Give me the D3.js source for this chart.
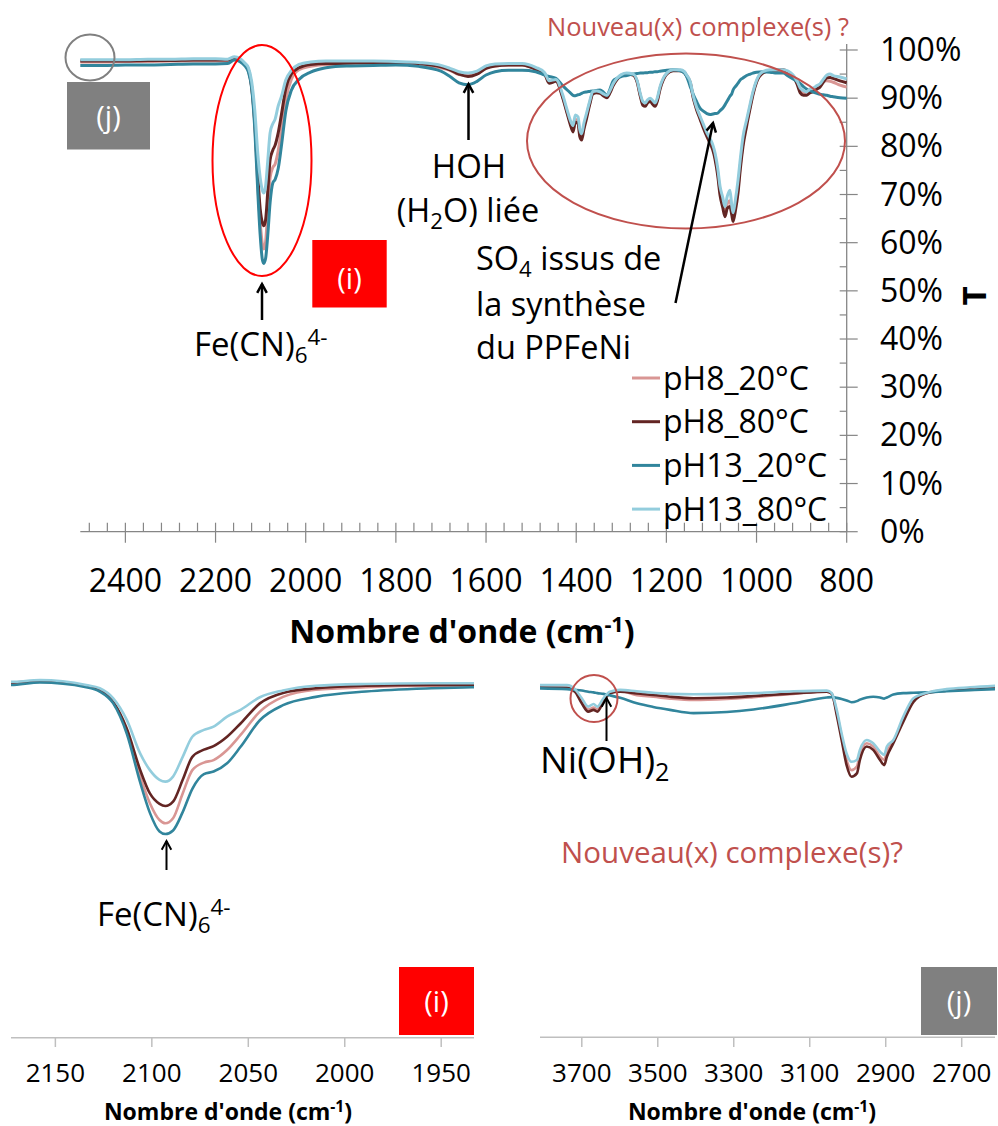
<!DOCTYPE html>
<html><head><meta charset="utf-8">
<script src="https://cdn.jsdelivr.net/npm/d3@7"></script>
<style>
body{margin:0;background:#fff;}
text{font-family:"Open Sans","Noto Sans",sans-serif;}
</style></head><body>
<svg id="c" width="998" height="1126"></svg>
<script>
// ---------- DATA ----------
const seriesNames = ["pH8_20°C","pH8_80°C","pH13_20°C","pH13_80°C"];
const seriesColors = ["#d99694","#632523","#31859c","#93cddd"];

// Main spectrum (also used by the zoom panel (i)), transmittance in %
const wnMain = [2500,2450,2400,2350,2300,2250,2200,2173,2158,2134,
2127,2120,2113,2106,2101,2096,2093,2089,2084,2079,
2073,2068,2061,2054,2044,2032,2015,1989,1955,1934,
1900,1850,1800,1750,1700,1680,1660,1640,1620,1600,
1580,1550,1520,1490,1470,1460,1445,1430,1420,1413,
1407,1402,1396,1392,1388,1383,1377,1370,1363,1355,
1347,1340,1332,1325,1318,1310,1300,1288,1274,1265,
1258,1252,1247,1242,1236,1230,1225,1220,1214,1207,
1199,1185,1169,1160,1155,1147,1140,1133,1125,1118,
1110,1103,1097,1092,1086,1081,1075,1070,1065,1059,
1055,1052,1047,1041,1036,1030,1022,1014,1008,1000,
986,970,955,941,930,919,910,903,896,889,
882,875,866,859,852,844,837,830,815,800];

const tPH8_20 = [97.5,97.5,97.6,97.6,97.7,97.7,97.7,97.7,98.1,96.8,
95.7,92.3,84.5,71.7,64.3,59.6,58.7,60.1,67.0,73.5,
75.6,76.3,79.1,83.3,89.8,93.9,95.9,96.6,97.0,97.0,
97.1,97.2,97.2,97.0,96.3,95.8,94.9,94.7,95.1,96.3,
96.7,96.9,96.9,96.1,95.1,93.3,93.7,90.3,87.0,84.9,
83.5,85.6,85.2,82.6,81.9,84.0,86.3,89.1,91.1,91.3,
91.1,90.7,90.3,91.3,92.8,93.9,94.8,95.1,94.9,93.5,
90.7,88.9,88.6,89.3,89.6,89.1,88.6,89.7,92.1,93.9,
95.1,95.8,95.8,95.4,94.7,93.3,90.1,87.9,85.9,84.1,
82.4,81.1,79.8,77.9,74.5,70.7,68.1,66.4,68.1,68.7,
66.6,65.2,67.6,71.4,76.1,80.8,84.8,88.4,91.0,93.5,
95.3,95.8,95.8,95.8,95.4,94.6,93.2,91.6,91.1,90.9,
91.4,91.7,92.2,92.6,93.5,93.6,93.5,93.3,92.7,92.3];

const tPH8_80 = [97.7,97.7,97.7,97.8,97.8,97.9,97.9,97.9,98.3,97.0,
95.9,92.5,85.1,73.5,67.0,64.1,63.5,64.7,70.8,77.2,
79.2,80.2,82.8,86.5,92.1,95.0,96.3,97.0,97.2,97.2,
97.3,97.4,97.4,97.2,96.5,95.9,95.0,94.5,95.0,96.2,
96.7,96.9,96.9,96.0,95.0,93.1,93.5,90.1,86.8,84.5,
83.0,85.0,84.8,82.0,81.3,83.5,85.8,88.7,90.9,91.1,
91.0,90.5,90.1,91.1,92.6,93.8,94.7,95.0,94.8,93.4,
90.5,88.5,88.3,89.0,89.3,88.7,88.3,89.4,91.9,93.8,
95.0,95.7,95.7,95.3,94.6,93.1,89.9,87.6,85.6,83.8,
82.0,80.6,79.2,77.3,73.9,69.9,67.3,65.4,67.1,67.5,
65.8,64.4,66.6,70.4,75.3,80.0,84.2,88.0,90.7,93.3,
95.2,95.7,95.8,95.9,95.4,94.5,92.9,91.1,90.6,90.6,
91.1,91.3,91.9,92.3,93.3,94.2,94.3,94.1,93.6,93.2];

const tPH13_20 = [96.8,96.8,96.9,96.9,97.0,97.1,97.1,97.2,97.9,96.6,
95.4,92.1,83.7,70.0,61.6,56.4,55.7,56.7,61.8,68.3,
72.4,73.1,75.4,80.0,87.4,91.6,93.9,95.4,96.3,96.6,
96.7,96.8,96.9,96.6,95.6,94.5,93.2,92.8,93.5,94.8,
95.5,95.8,95.8,95.5,94.8,94.5,94.1,92.6,91.7,91.1,
90.6,90.5,90.7,90.8,91.0,91.2,91.3,91.4,91.5,91.6,
91.7,91.3,90.6,91.9,93.6,94.1,94.5,94.7,95.0,95.1,
95.2,95.2,95.3,95.3,95.4,95.4,95.5,95.5,95.6,95.7,
95.8,95.9,95.7,95.2,94.5,92.4,90.7,89.3,87.9,87.3,
86.8,86.6,86.7,86.8,86.9,87.4,87.9,88.6,89.4,90.4,
90.9,91.7,92.4,93.1,93.8,94.2,94.7,95.0,95.2,95.4,
95.5,95.4,95.2,95.2,94.6,94.0,93.5,93.0,92.4,91.9,
91.6,91.3,91.0,90.8,90.7,90.6,90.4,90.3,90.1,90.0];

const tPH13_80 = [98.0,98.0,98.0,98.1,98.1,98.2,98.2,98.1,98.6,97.2,
96.3,93.5,87.5,78.1,73.5,70.8,70.3,71.7,77.2,82.8,
84.7,85.6,88.4,90.3,93.8,95.7,97.0,97.5,97.7,97.7,
97.7,97.7,97.6,97.4,96.8,96.2,95.5,95.2,95.6,96.7,
97.1,97.2,97.2,96.4,95.3,93.6,93.9,90.7,87.5,85.4,
84.3,86.5,86.1,83.5,82.6,84.8,86.9,89.4,91.4,91.5,
91.3,90.9,90.6,91.6,93.0,94.1,94.9,95.2,95.0,93.7,
91.0,89.3,89.0,89.6,90.0,89.5,89.0,90.1,92.4,94.1,
95.2,95.9,95.9,95.5,94.8,93.4,90.3,88.1,86.2,84.6,
82.8,81.6,80.3,78.6,75.4,71.7,69.4,67.5,69.6,70.9,
67.8,66.2,68.8,73.0,77.4,82.0,85.5,88.9,91.3,93.7,
95.5,95.9,95.9,95.9,95.6,94.8,93.5,92.1,91.6,91.3,
91.9,92.1,92.6,93.0,93.9,94.8,95.0,94.7,94.4,94.0];

// Zoom panel (j): high wavenumber region
const wnJ = [3810,3739,3718,3700,3683,3669,3659,3643,3626,3599,
3555,3512,3468,3406,3318,3248,3143,3055,3042,3029,
3016,3003,2990,2976,2968,2950,2933,2915,2904,2897,
2880,2854,2827,2792,2740,2678,2612];
const jPH8_20 = [95.6,95.4,94.5,91.6,89.3,89.8,89.3,91.9,94.0,94.4,
93.2,92.8,92.3,91.9,92.2,92.7,93.6,94.2,93.7,88.5,
81.8,75.4,72.6,73.6,76.8,80.0,79.1,76.3,75.4,77.7,
80.4,86.6,91.9,93.8,94.7,95.1,95.4];
const jPH8_80 = [95.4,95.2,94.2,91.0,88.7,89.2,88.7,91.4,93.8,94.2,
93.7,93.3,92.8,92.4,92.6,93.0,93.7,94.2,93.6,87.8,
80.9,74.0,70.8,71.7,75.4,79.1,78.2,75.4,74.0,76.3,
80.0,85.9,91.4,93.8,94.5,94.9,95.1];
const jPH13_20 = [95.1,94.9,94.7,94.5,94.2,94.0,93.8,93.6,93.2,92.5,
91.0,90.0,89.2,88.3,88.6,89.3,91.0,92.6,92.7,92.5,
92.2,91.8,91.3,91.6,92.0,92.6,92.8,92.6,92.3,92.6,
93.4,93.8,93.9,94.0,94.3,94.6,94.9];
const jPH13_80 = [96.0,96.0,94.9,92.4,90.1,90.8,90.1,92.4,94.2,94.7,
94.3,93.9,93.6,93.5,93.6,93.8,94.3,94.5,93.8,89.2,
82.7,77.2,74.9,75.4,78.2,80.9,80.0,77.7,76.8,79.1,
80.9,87.3,92.4,93.9,94.9,95.4,95.8];

// Tick labels
const xTicksMain = [2400,2200,2000,1800,1600,1400,1200,1000,800];
const yTicksMain = [0,10,20,30,40,50,60,70,80,90,100];
const xTicksI = [2150,2100,2050,2000,1950];
const xTicksJ = [3700,3500,3300,3100,2900,2700];

// ---------- DRAWING ----------
const svg = d3.select("#c");
const mainSeries = [tPH8_20, tPH8_80, tPH13_20, tPH13_80];
const jSeries = [jPH8_20, jPH8_80, jPH13_20, jPH13_80];

function rich(g, x, y, parts, size, opts){
  opts = opts || {};
  const t = g.append("text").attr("x", x).attr("y", y)
    .attr("font-size", size).attr("text-anchor", opts.anchor || "start")
    .attr("fill", opts.fill || "#000").attr("font-weight", opts.weight || "normal");
  let shift = 0;
  parts.forEach(p => {
    const s = p.sub ? size*0.22 : (p.sup ? -size*0.33 : 0);
    const ts = t.append("tspan").attr("dy", s - shift).text(p.t);
    if (p.sub || p.sup) ts.attr("font-size", size*0.68);
    shift = s;
  });
  return t;
}

const defs = svg.append("defs");
function clip(id, x0, y0, x1, y1){
  defs.append("clipPath").attr("id", id).append("rect")
    .attr("x", x0).attr("y", y0).attr("width", x1-x0).attr("height", y1-y0);
}

// ===== Main chart =====
const xMain = d3.scaleLinear().domain([2500, 800]).range([80.3, 846.7]);
const yMain = d3.scaleLinear().domain([0, 100]).range([531.7, 50]);
const gMain = svg.append("g");
const axisCol = "#868686";

// x axis
gMain.append("line").attr("x1", xMain(2500)).attr("x2", xMain(800))
  .attr("y1", yMain(0)).attr("y2", yMain(0)).attr("stroke", axisCol).attr("stroke-width", 1.3);
d3.range(2480, 799, -40).forEach(v => {
  const major = xTicksMain.includes(v);
  gMain.append("line").attr("x1", xMain(v)).attr("x2", xMain(v))
    .attr("y1", yMain(0) - 9).attr("y2", yMain(0) + (major ? 11 : 0))
    .attr("stroke", axisCol).attr("stroke-width", 1.2);
});
gMain.selectAll("text.xt").data(xTicksMain).join("text").attr("class", "xt")
  .attr("x", d => xMain(d)).attr("y", 592).attr("text-anchor", "middle")
  .attr("font-size", 32).attr("fill", "#000").text(d => d);
rich(gMain, 462, 643, [{t:"Nombre d'onde (cm"},{t:"-1",sup:true},{t:")"}], 32, {anchor:"middle", weight:"bold"});

// y axis (right)
gMain.append("line").attr("x1", xMain(800)).attr("x2", xMain(800))
  .attr("y1", yMain(0)).attr("y2", 44).attr("stroke", axisCol).attr("stroke-width", 1.3);
d3.range(5, 100, 10).forEach(v => {
  gMain.append("line").attr("x1", xMain(800) - 7).attr("x2", xMain(800))
    .attr("y1", yMain(v)).attr("y2", yMain(v)).attr("stroke", axisCol).attr("stroke-width", 1.2);
});
yTicksMain.forEach(v => {
  gMain.append("line").attr("x1", xMain(800) - 7).attr("x2", xMain(800) + 11)
    .attr("y1", yMain(v)).attr("y2", yMain(v)).attr("stroke", axisCol).attr("stroke-width", 1.2);
});
gMain.selectAll("text.yt").data(yTicksMain).join("text").attr("class", "yt")
  .attr("x", 880).attr("y", d => yMain(d) + 11).attr("font-size", 32)
  .attr("fill", "#000").text(d => d + "%");
gMain.append("text").attr("transform", "translate(974,296) rotate(-90)")
  .attr("text-anchor", "middle").attr("dy", "0.35em").attr("font-size", 33)
  .attr("font-weight", "bold").text("T");

// series
clip("clipMain", 80, 20, 848, 532);
const gLinesMain = gMain.append("g").attr("clip-path", "url(#clipMain)");
mainSeries.forEach((vals, k) => {
  const line = d3.line().x((d, i) => xMain(wnMain[i])).y(d => yMain(d)).curve(d3.curveMonotoneX);
  gLinesMain.append("path").attr("d", line(vals)).attr("fill", "none")
    .attr("stroke", seriesColors[k]).attr("stroke-width", 3).attr("stroke-linejoin", "round");
});

// legend
seriesNames.forEach((n, k) => {
  const cy = 378 + k*43.7;
  gMain.append("line").attr("x1", 632).attr("x2", 660).attr("y1", cy).attr("y2", cy)
    .attr("stroke", seriesColors[k]).attr("stroke-width", 3);
  gMain.append("text").attr("x", 663).attr("y", cy + 11.5).attr("font-size", 32)
    .attr("fill", "#000").text(n);
});

// annotations main
const ann = svg.append("g");
ann.append("ellipse").attr("cx", 90).attr("cy", 57.5).attr("rx", 24.5).attr("ry", 23)
  .attr("fill", "none").attr("stroke", "#808080").attr("stroke-width", 2);
ann.append("rect").attr("x", 67).attr("y", 82).attr("width", 83).attr("height", 67.5).attr("fill", "#808080");
ann.append("text").attr("x", 108.5).attr("y", 127).attr("text-anchor", "middle")
  .attr("font-size", 29).attr("fill", "#fff").text("(j)");

ann.append("ellipse").attr("cx", 262).attr("cy", 160.5).attr("rx", 49.5).attr("ry", 115.5)
  .attr("fill", "none").attr("stroke", "#ff0000").attr("stroke-width", 2);
ann.append("rect").attr("x", 312.3).attr("y", 240).attr("width", 74.4).attr("height", 67.5).attr("fill", "#ff0000");
ann.append("text").attr("x", 349.5).attr("y", 289).attr("text-anchor", "middle")
  .attr("font-size", 29).attr("fill", "#fff").text("(i)");

ann.append("ellipse").attr("cx", 686).attr("cy", 141).attr("rx", 159).attr("ry", 87.5)
  .attr("fill", "none").attr("stroke", "#c0504d").attr("stroke-width", 2);
ann.append("text").attr("x", 698).attr("y", 36).attr("text-anchor", "middle")
  .attr("font-size", 25.5).attr("fill", "#c0504d").text("Nouveau(x) complexe(s) ?");

function arrow(g, x1, y1, x2, y2, w){
  g.append("line").attr("x1", x1).attr("y1", y1).attr("x2", x2).attr("y2", y2)
    .attr("stroke", "#000").attr("stroke-width", w || 2.5);
  const a = Math.atan2(y2 - y1, x2 - x1), L = 10, s = 0.5;
  const p1 = [x2 - L*Math.cos(a - s), y2 - L*Math.sin(a - s)];
  const p2 = [x2 - L*Math.cos(a + s), y2 - L*Math.sin(a + s)];
  g.append("path").attr("d", `M${p1}L${x2},${y2}L${p2}`).attr("fill", "none")
    .attr("stroke", "#000").attr("stroke-width", w || 2.5).attr("stroke-linejoin", "miter");
}
arrow(ann, 262, 320, 262, 284);
rich(ann, 194, 356, [{t:"Fe(CN)"},{t:"6",sub:true},{t:"4-",sup:true}], 33);
arrow(ann, 468.5, 140, 468.5, 84);
ann.append("text").attr("x", 469).attr("y", 178).attr("text-anchor", "middle").attr("font-size", 33).text("HOH");
rich(ann, 468, 222, [{t:"(H"},{t:"2",sub:true},{t:"O) liée"}], 32.5, {anchor:"middle"});
rich(ann, 476, 270, [{t:"SO"},{t:"4",sub:true},{t:" issus de"}], 32.5);
ann.append("text").attr("x", 476).attr("y", 316).attr("font-size", 32.5).text("la synthèse");
ann.append("text").attr("x", 476).attr("y", 359).attr("font-size", 32.5).text("du PPFeNi");
arrow(ann, 675.5, 303, 713, 123);

// ===== Panel (i) =====
const xI = d3.scaleLinear().domain([2173, 1933]).range([11, 474]);
const yI = d3.scaleLinear().domain([0, 100]).range([1034, 675]);
const gI = svg.append("g");
clip("clipI", 11, 650, 474, 1037);
const gLinesI = gI.append("g").attr("clip-path", "url(#clipI)");
mainSeries.forEach((vals, k) => {
  const line = d3.line().x((d, i) => xI(wnMain[i])).y(d => yI(d)).curve(d3.curveMonotoneX);
  gLinesI.append("path").attr("d", line(vals)).attr("fill", "none")
    .attr("stroke", seriesColors[k]).attr("stroke-width", 2.6);
});
const axCol2 = "#bfbfbf";
gI.append("line").attr("x1", 11).attr("x2", 474).attr("y1", 1037.7).attr("y2", 1037.7)
  .attr("stroke", axCol2).attr("stroke-width", 1.5);
xTicksI.forEach(v => {
  gI.append("line").attr("x1", xI(v)).attr("x2", xI(v)).attr("y1", 1037.7).attr("y2", 1047)
    .attr("stroke", axCol2).attr("stroke-width", 1.5);
});
gI.selectAll("text.xt").data(xTicksI).join("text").attr("class", "xt")
  .attr("x", d => xI(d)).attr("y", 1082).attr("text-anchor", "middle")
  .attr("font-size", 26).text(d => d);
rich(gI, 228, 1120, [{t:"Nombre d'onde (cm"},{t:"-1",sup:true},{t:")"}], 23, {anchor:"middle", weight:"bold"});
gI.append("rect").attr("x", 399).attr("y", 967).attr("width", 75).attr("height", 68).attr("fill", "#ff0000");
gI.append("text").attr("x", 436.5).attr("y", 1012).attr("text-anchor", "middle")
  .attr("font-size", 29).attr("fill", "#fff").text("(i)");
arrow(gI, 166.5, 870, 166.5, 841, 2);
rich(gI, 97, 926, [{t:"Fe(CN)"},{t:"6",sub:true},{t:"4-",sup:true}], 33);

// ===== Panel (j) =====
const xJ = d3.scaleLinear().domain([3810, 2615]).range([540, 994]);
const yJ = d3.scaleLinear().domain([0, 100]).range([1034, 670.6]);
const gJ = svg.append("g");
clip("clipJ", 540, 650, 995, 1037);
const gLinesJ = gJ.append("g").attr("clip-path", "url(#clipJ)");
jSeries.forEach((vals, k) => {
  const line = d3.line().x((d, i) => xJ(wnJ[i])).y(d => yJ(d)).curve(d3.curveMonotoneX);
  gLinesJ.append("path").attr("d", line(vals)).attr("fill", "none")
    .attr("stroke", seriesColors[k]).attr("stroke-width", 2.6);
});
gJ.append("line").attr("x1", 540).attr("x2", 995).attr("y1", 1037.3).attr("y2", 1037.3)
  .attr("stroke", axCol2).attr("stroke-width", 1.5);
xTicksJ.forEach(v => {
  gJ.append("line").attr("x1", xJ(v)).attr("x2", xJ(v)).attr("y1", 1037.3).attr("y2", 1047)
    .attr("stroke", axCol2).attr("stroke-width", 1.5);
});
gJ.selectAll("text.xt").data(xTicksJ).join("text").attr("class", "xt")
  .attr("x", d => xJ(d)).attr("y", 1082).attr("text-anchor", "middle")
  .attr("font-size", 26).text(d => d);
rich(gJ, 752, 1120, [{t:"Nombre d'onde (cm"},{t:"-1",sup:true},{t:")"}], 23, {anchor:"middle", weight:"bold"});
gJ.append("rect").attr("x", 921).attr("y", 967).attr("width", 76).attr("height", 68).attr("fill", "#808080");
gJ.append("text").attr("x", 959).attr("y", 1012).attr("text-anchor", "middle")
  .attr("font-size", 29).attr("fill", "#fff").text("(j)");
gJ.append("circle").attr("cx", 594).attr("cy", 698.5).attr("r", 23.5)
  .attr("fill", "none").attr("stroke", "#c0504d").attr("stroke-width", 2);
arrow(gJ, 606.5, 741, 606.5, 698, 2);
rich(gJ, 540, 773, [{t:"Ni(OH)"},{t:"2",sub:true}], 37);
gJ.append("text").attr("x", 732).attr("y", 863).attr("text-anchor", "middle")
  .attr("font-size", 29.5).attr("fill", "#c0504d").text("Nouveau(x) complexe(s)?");
</script>
</body></html>
